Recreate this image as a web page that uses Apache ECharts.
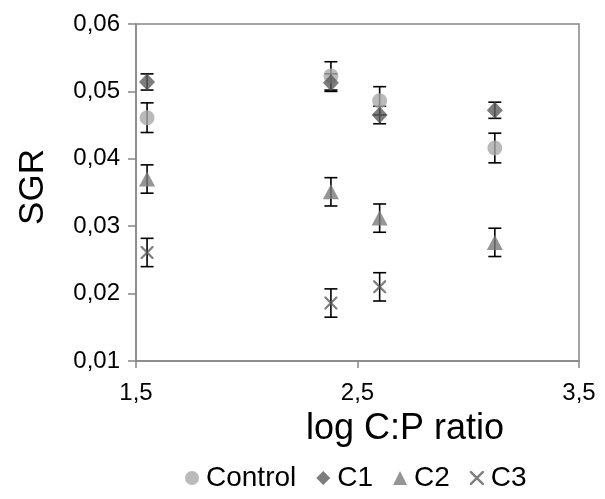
<!DOCTYPE html>
<html><head><meta charset="utf-8">
<script src="https://cdn.jsdelivr.net/npm/echarts@6/dist/echarts.min.js"></script>
<style>html,body{margin:0;padding:0;background:#fff}#c{width:605px;height:499px}</style>
</head><body><div id="c"></div>
<script>
var xVals = [1.55, 2.38, 2.6, 3.12];
var controlVals = [0.0461, 0.0523, 0.0486, 0.0416];
var controlErr = [0.0022, 0.0021, 0.0021, 0.0022];
var c1Vals = [0.0514, 0.0513, 0.0465, 0.0472];
var c1Err = [0.0012, 0.0013, 0.0013, 0.0012];
var c2Vals = [0.0370, 0.0351, 0.0312, 0.0276];
var c2Err = [0.0021, 0.0021, 0.0021, 0.0021];
var c3Vals = [0.0261, 0.0186, 0.0210, null];
var c3Err = [0.0021, 0.0021, 0.0021, null];
var xTicks = [1.5, 2.5, 3.5];
var seriesNames = ['Control', 'C1', 'C2', 'C3'];

var FONT = 'Liberation Sans, Arial, sans-serif';
var crossPath = 'path://M0,0L1.2,0L5,3.8L8.8,0L10,0L10,1.2L6.2,5L10,8.8L10,10L8.8,10L5,6.2L1.2,10L0,10L0,8.8L3.8,5L0,1.2Z';

function pts(vals) {
  var out = [];
  for (var i = 0; i < xVals.length; i++) if (vals[i] != null) out.push([xVals[i], vals[i]]);
  return out;
}
function errs(vals, e) {
  var out = [];
  for (var i = 0; i < xVals.length; i++) if (vals[i] != null) out.push([xVals[i], vals[i] - e[i], vals[i] + e[i]]);
  return out;
}
var errData = [].concat(errs(controlVals, controlErr), errs(c1Vals, c1Err), errs(c2Vals, c2Err), errs(c3Vals, c3Err));

var chart = echarts.init(document.getElementById('c'));
chart.setOption({
  animation: false,
  grid: {left: 136, right: 26, top: 24, bottom: 138, show: true, borderColor: '#878787', borderWidth: 1.5, backgroundColor: 'transparent'},
  xAxis: {
    type: 'value', min: 1.5, max: 3.5, interval: 0.5,
    axisLine: {lineStyle: {color: '#878787', width: 1.5}},
    axisTick: {show: true, length: 7, lineStyle: {color: '#878787', width: 1.5}, customValues: xTicks},
    axisLabel: {customValues: xTicks, fontSize: 24, color: '#000', fontFamily: FONT, margin: 20,
      formatter: function (v) { return v.toFixed(1).replace('.', ','); }},
    splitLine: {show: false}
  },
  yAxis: {
    type: 'value', min: 0.01, max: 0.06, interval: 0.01,
    axisLine: {show: true, lineStyle: {color: '#878787', width: 1.5}},
    axisTick: {show: true, length: 8, lineStyle: {color: '#878787', width: 1.5}},
    axisLabel: {fontSize: 24, color: '#000', fontFamily: FONT, margin: 16,
      formatter: function (v) { return v.toFixed(2).replace('.', ','); }},
    splitLine: {show: false}
  },
  legend: {
    data: seriesNames, left: 180, top: 459, itemWidth: 14, itemHeight: 14, itemGap: 20,
    textStyle: {fontSize: 28, color: '#000', fontFamily: FONT, padding: [0, 0, 0, 2]}
  },
  graphic: [
    {type: 'text', x: 405, y: 429, style: {text: 'log C:P ratio', fontSize: 36, fontFamily: FONT, fill: '#000', textAlign: 'center', textVerticalAlign: 'middle'}},
    {type: 'text', x: 33, y: 187, rotation: Math.PI / 2, style: {text: 'SGR', fontSize: 35, fontFamily: FONT, fill: '#000', textAlign: 'center', textVerticalAlign: 'middle'}}
  ],
  series: [
    {type: 'custom', name: 'err', z: 1, data: errData,
      renderItem: function (params, api) {
        var lo = api.coord([api.value(0), api.value(1)]);
        var hi = api.coord([api.value(0), api.value(2)]);
        var w = 6.5;
        var st = {stroke: '#000', lineWidth: 1.6};
        return {type: 'group', children: [
          {type: 'line', shape: {x1: lo[0], y1: lo[1], x2: hi[0], y2: hi[1]}, style: st},
          {type: 'line', shape: {x1: lo[0] - w, y1: lo[1], x2: lo[0] + w, y2: lo[1]}, style: st},
          {type: 'line', shape: {x1: hi[0] - w, y1: hi[1], x2: hi[0] + w, y2: hi[1]}, style: st}
        ]};
      }},
    {type: 'scatter', name: 'Control', z: 2, symbol: 'circle', symbolSize: 15, itemStyle: {color: '#a9a9a9'}, data: pts(controlVals)},
    {type: 'scatter', name: 'C1', z: 3, symbol: 'diamond', symbolSize: [16, 17], itemStyle: {color: '#5c5c5c'}, data: pts(c1Vals)},
    {type: 'scatter', name: 'C2', z: 4, symbol: 'triangle', symbolSize: [16, 15], itemStyle: {color: '#7a7a7a'}, data: pts(c2Vals)},
    {type: 'scatter', name: 'C3', z: 5, symbol: crossPath, symbolSize: 13, itemStyle: {color: '#5e5e5e'}, data: pts(c3Vals)}
  ]
});
</script></body></html>
